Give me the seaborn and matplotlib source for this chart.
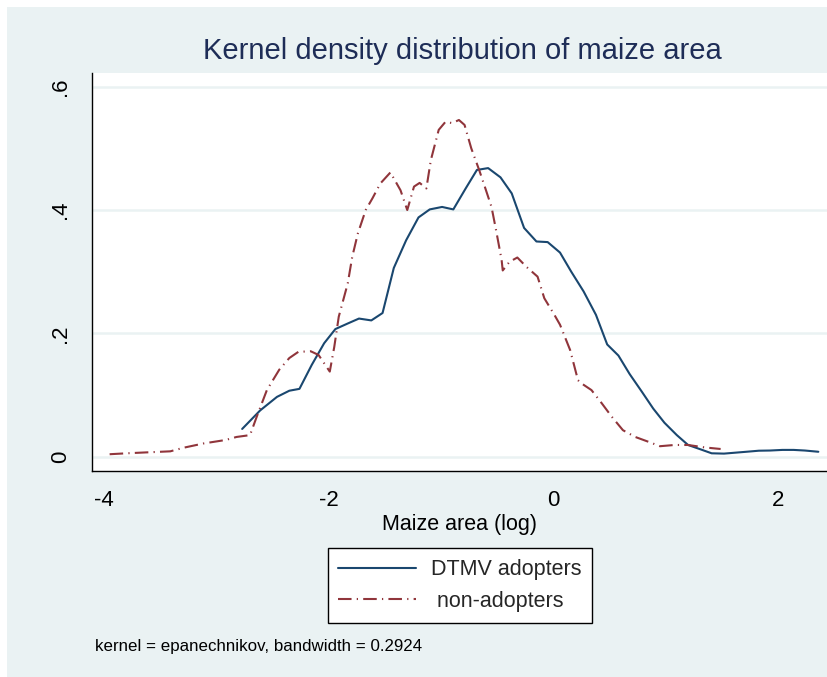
import numpy as np
import pandas as pd
import matplotlib
matplotlib.use('Agg')
import matplotlib.pyplot as plt
import seaborn as sns
from matplotlib.patches import Rectangle

# DTMV adopters (solid)
adopt_x = [-2.77, -2.61, -2.46, -2.35, -2.26, -2.15, -2.04, -1.94, -1.83, -1.73,
           -1.62, -1.52, -1.42, -1.31, -1.20, -1.10, -0.99, -0.89, -0.78, -0.68,
           -0.58, -0.47, -0.37, -0.26, -0.15, -0.05, 0.06, 0.16, 0.27, 0.38,
           0.48, 0.58, 0.68, 0.79, 0.89, 0.99, 1.10, 1.20, 1.31, 1.41,
           1.52, 1.62, 1.72, 1.83, 1.93, 2.04, 2.14, 2.24, 2.36]
adopt_y = [0.045, 0.075, 0.097, 0.107, 0.110, 0.149, 0.184, 0.207, 0.216, 0.224,
           0.221, 0.233, 0.306, 0.351, 0.388, 0.401, 0.405, 0.401, 0.435, 0.465,
           0.468, 0.453, 0.427, 0.371, 0.349, 0.348, 0.331, 0.300, 0.268, 0.230,
           0.182, 0.164, 0.134, 0.105, 0.078, 0.055, 0.035, 0.019, 0.012, 0.0055,
           0.005, 0.0065, 0.008, 0.0097, 0.010, 0.011, 0.011, 0.010, 0.008]

# non-adopters (dash-dot)
non_x = [-3.95, -3.80, -3.62, -3.41, -3.29, -3.11, -2.92, -2.82, -2.70, -2.64,
         -2.55, -2.44, -2.35, -2.27, -2.16, -2.09, -1.99, -1.95, -1.91, -1.83,
         -1.79, -1.74, -1.67, -1.61, -1.54, -1.45, -1.36, -1.30, -1.24, -1.19,
         -1.13, -1.09, -1.02, -0.96, -0.90, -0.84, -0.79, -0.73, -0.66, -0.61,
         -0.55, -0.51, -0.46, -0.45, -0.39, -0.32, -0.24, -0.14, -0.08, 0.01,
         0.06, 0.15, 0.22, 0.25, 0.34, 0.43, 0.52, 0.62, 0.73, 0.85,
         0.95, 1.08, 1.20, 1.35, 1.49]
non_y = [0.004, 0.0055, 0.007, 0.0087, 0.0146, 0.0216, 0.027, 0.032, 0.035, 0.065,
         0.108, 0.141, 0.160, 0.170, 0.171, 0.165, 0.138, 0.178, 0.227, 0.281,
         0.324, 0.362, 0.400, 0.419, 0.443, 0.461, 0.432, 0.400, 0.438, 0.444,
         0.435, 0.481, 0.530, 0.543, 0.541, 0.546, 0.538, 0.500, 0.465, 0.438,
         0.405, 0.368, 0.319, 0.302, 0.316, 0.323, 0.308, 0.292, 0.257, 0.230,
         0.214, 0.173, 0.124, 0.119, 0.108, 0.087, 0.065, 0.043, 0.032, 0.024,
         0.017, 0.019, 0.019, 0.015, 0.0125]

x_ticks = [-4, -2, 0, 2]
x_ticklabels = ['-4', '-2', '0', '2']
y_ticks = [0, 0.2, 0.4, 0.6]
y_ticklabels = ['0', '.2', '.4', '.6']

labels = ['DTMV adopters', ' non-adopters']
title = 'Kernel density distribution of maize area'
note = 'kernel = epanechnikov, bandwidth = 0.2924'

sns.set_style('white')
plt.rcParams['font.family'] = ['Liberation Sans', 'DejaVu Sans']
plt.rcParams['axes.unicode_minus'] = False

BG = '#eaf2f3'
NAVY = '#1a476f'
MAROON = '#90353b'

fig = plt.figure(figsize=(8.28, 6.77), dpi=100, facecolor='white')
# stata-style light background, with a thin white margin top/left
fig.patches.append(Rectangle((7 / 828, 0), 1 - 7 / 828, 1 - 7 / 677,
                             transform=fig.transFigure, facecolor=BG,
                             edgecolor='none', zorder=-10))
ax = fig.add_axes([92 / 828, 1 - 471 / 677, 1 - 92 / 828, (471 - 72.7) / 677])
ax.set_facecolor('white')

df_a = pd.DataFrame({'x': adopt_x, 'y': adopt_y})
df_n = pd.DataFrame({'x': non_x, 'y': non_y})
sns.lineplot(data=df_a, x='x', y='y', ax=ax, color=NAVY, lw=1.5,
             estimator=None, sort=False, label=labels[0])
sns.lineplot(data=df_n, x='x', y='y', ax=ax, color=MAROON, lw=1.5,
             estimator=None, sort=False, label=labels[1])
ax.lines[1].set_dashes([6.5, 2.5, 0.6, 2.5])

ax.set_xlim(-4.107, 2.446)
ax.set_ylim(-0.0232, 0.6227)
ax.set_xticks(x_ticks)
ax.set_xticklabels(x_ticklabels)
ax.set_yticks(y_ticks)
ax.set_yticklabels(y_ticklabels, rotation=90, va='center')
ax.grid(axis='y', color=BG, lw=1.8)
ax.set_axisbelow(True)

for s in ['top', 'right']:
    ax.spines[s].set_visible(False)
for s in ['left', 'bottom']:
    ax.spines[s].set_color('black')
    ax.spines[s].set_linewidth(1.0)

ax.tick_params(axis='both', direction='out', length=6, width=0.9,
               color='#333333', labelsize=16, labelcolor='black')
ax.tick_params(axis='x', pad=8)
ax.tick_params(axis='y', pad=9)

ax.set_xlabel('Maize area (log)', fontsize=15.5, color='black', labelpad=2)
ax.set_ylabel('')

fig.text(462 / 828, 1 - 51 / 677, title, ha='center', va='center',
         fontsize=21, color='#1e2d57')

leg = ax.legend(loc='center', bbox_to_anchor=(460 / 828, 1 - 585.5 / 677),
                bbox_transform=fig.transFigure, fontsize=15.5, frameon=True,
                fancybox=False, framealpha=1, edgecolor='black',
                handlelength=3.6, handletextpad=0.7, labelspacing=0.5,
                borderpad=0.5, borderaxespad=0)
leg.get_frame().set_linewidth(1.0)

fig.text(95 / 828, 1 - 647 / 677, note, ha='left', va='center',
         fontsize=12.2, color='black')

fig.savefig('out.png', dpi=100, facecolor=fig.get_facecolor())
